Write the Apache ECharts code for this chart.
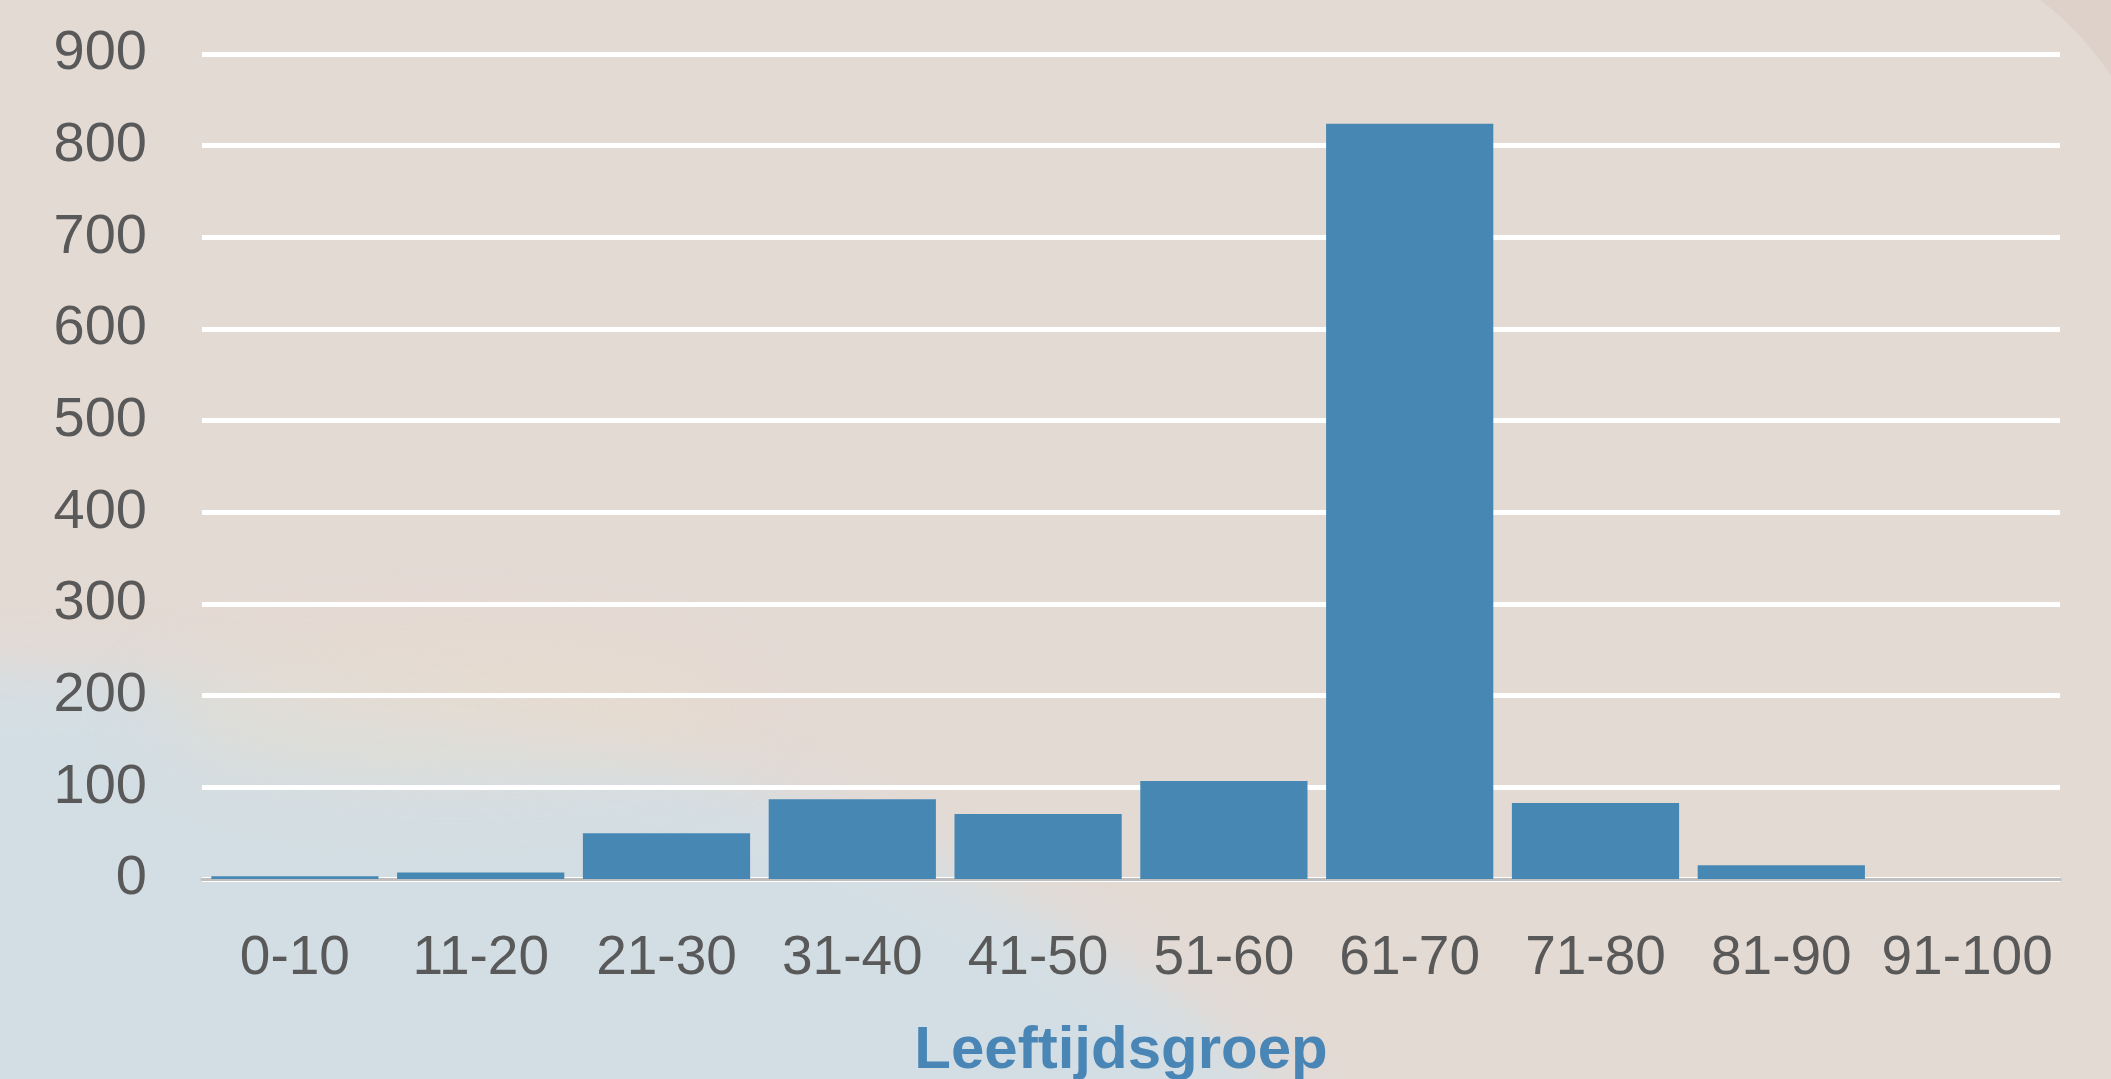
<!DOCTYPE html>
<html>
<head>
<meta charset="utf-8">
<script src="https://cdn.jsdelivr.net/npm/echarts@6/dist/echarts.min.js"></script>
<style>
  html, body { margin: 0; padding: 0; width: 2111px; height: 1079px; overflow: hidden; background: #DDD1C9; }
  #panel { position: absolute; left: 0; top: -60px; width: 2160px; height: 1200px; background: #E4DAD4; border-top-right-radius: 300px; overflow: hidden; }
  #blob { position: absolute; left: -1480px; top: 730px; width: 2960px; height: 1680px; border-radius: 50%; background: #D3DEE4; filter: blur(30px); }
  #glow { position: absolute; left: 150px; top: 700px; width: 600px; height: 140px; border-radius: 50%; background: rgba(232,220,205,0.6); filter: blur(40px); }
  #chart { position: absolute; left: 0; top: 0; width: 2111px; height: 1079px; }
</style>
</head>
<body>
<div id="panel"><div id="blob"></div><div id="glow"></div></div>
<div id="chart"></div>
<script>
const categories = ['0-10', '11-20', '21-30', '31-40', '41-50', '51-60', '61-70', '71-80', '81-90', '91-100'];
const values = [3, 7, 50, 87, 71, 107, 824, 83, 15, 0];
const yMax = 900;
const yInterval = 100;
const xTitle = 'Leeftijdsgroep';

const chart = echarts.init(document.getElementById('chart'), null, { renderer: 'canvas' });
chart.setOption({
  backgroundColor: 'transparent',
  animation: false,
  grid: { left: 202, right: 51, top: 54, bottom: 200, containLabel: false, outerBoundsMode: 'none' },
  xAxis: {
    type: 'category',
    data: categories,
    axisLine: { show: true, lineStyle: { color: '#BFBFBF', width: 3 } },
    axisTick: { show: false },
    axisLabel: { color: '#595959', fontSize: 55, fontFamily: 'Liberation Sans', margin: 52, interval: 0 },
    name: xTitle,
    nameLocation: 'middle',
    nameGap: 142,
    nameTextStyle: { color: '#4A86B5', fontSize: 60, fontWeight: 'bold', fontFamily: 'Liberation Sans', padding: [0, 20, 0, 0] }
  },
  yAxis: {
    type: 'value',
    min: 0,
    max: yMax,
    interval: yInterval,
    axisLine: { show: false },
    axisTick: { show: false },
    axisLabel: { color: '#595959', fontSize: 56, fontFamily: 'Liberation Sans', margin: 55 },
    splitLine: { show: true, lineStyle: { color: '#FFFFFF', width: 5 } }
  },
  series: [{
    type: 'bar',
    data: values,
    barCategoryGap: '10%',
    itemStyle: { color: '#4787B3' }
  }]
});
</script>
</body>
</html>
